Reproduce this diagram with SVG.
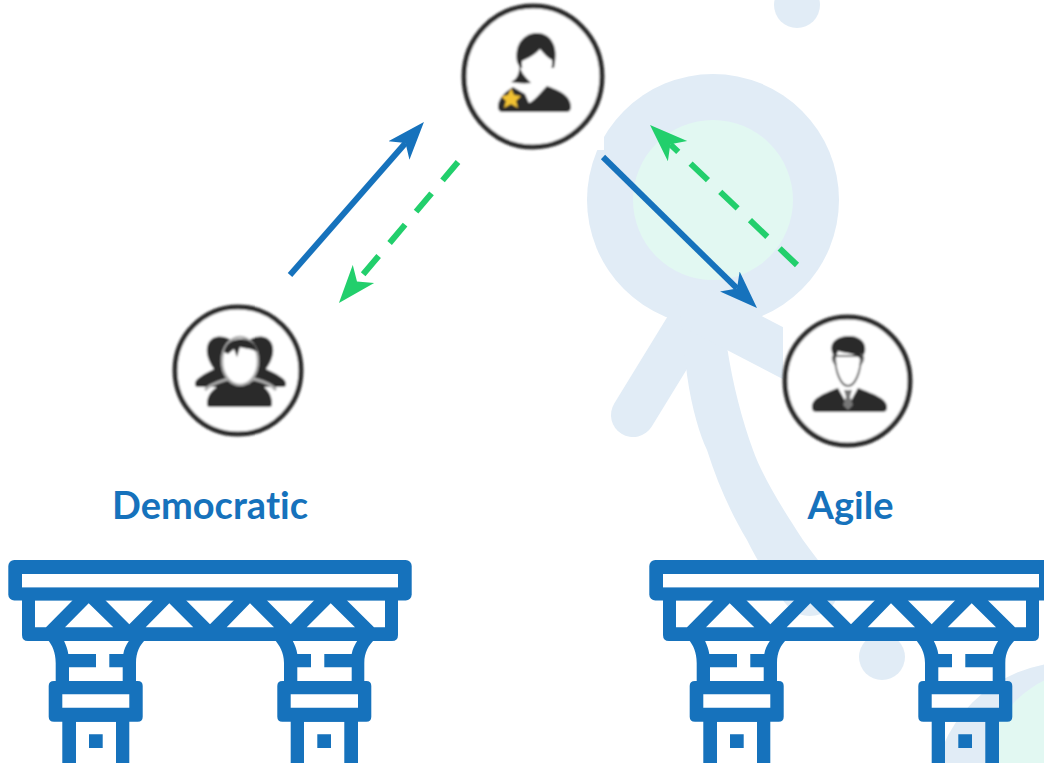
<svg xmlns="http://www.w3.org/2000/svg" xmlns:xlink="http://www.w3.org/1999/xlink" width="1044" height="763" viewBox="0 0 1044 763">
<style>
.bl{fill:#1672bc}
.bh{fill:#1672bc;fill-rule:evenodd}
.bgs{fill:#e1ecf6}
.mint{fill:#e2f8f2}
.lb{fill:#1672bc;font-family:"Lato","Liberation Sans",sans-serif;font-weight:700;font-size:38px;text-anchor:middle;font-variant-ligatures:none}
.ring{fill:#fff;stroke:#2a2a2a;stroke-width:5}
.dk{fill:#2a2a2a}
.conn{fill:none;stroke-width:6}
.soft{filter:url(#soft)}
</style>
<defs>
<filter id="soft" x="-5%" y="-5%" width="110%" height="110%"><feGaussianBlur stdDeviation="0.8"/></filter>
<marker id="ab" markerUnits="userSpaceOnUse" markerWidth="40" markerHeight="30" refX="10" refY="15" orient="auto"><path d="M0,1 L38,15 L0,29 L10,15 Z" fill="#1672bc"/></marker>
<marker id="ag" markerUnits="userSpaceOnUse" markerWidth="40" markerHeight="30" refX="10" refY="15" orient="auto"><path d="M0,1 L38,15 L0,29 L10,15 Z" fill="#22cf6c"/></marker>
<g id="bridge">
<rect x="8.3" y="560" width="403.4" height="40.6" rx="6" class="bl"/>
<rect x="22" y="574" width="376" height="13.4" fill="#fff"/>
<path class="bh" d="M22,600H398V635Q398,641 392,641H28Q22,641 22,635Z
M35,600.3H72.7L46,627.3H35Z
M88.7,603.3L113.3,627.3H65Z
M105.3,600.3H153.3L129.3,624.3Z
M169.3,603.3L193.3,627.3H145.7Z
M186,600.3H234L210,624.3Z
M250,603.3L274,627.3H226.7Z
M266.7,600.3H314.3L290.7,624.3Z
M330.7,603.3L355,627.3H306.7Z
M346.7,600.3H385V627.3H374Z"/>
<path class="bh" d="M48,640C52,645 55.7,652 55.7,663V682H136V663C136,652 140,645 145,640Z
M64,640.7H129C126,645 124,649 123.3,654H109.3V667.3H122.7V681H69V667.3H96V654H68.3C67.6,649 66,645 64,640.7Z"/>
<path class="bh" d="M275,640C279,645 284,652 284,663V682H364.3V663C364.3,652 369,645 374,640Z
M292.7,640.7H357.3C354.5,645 352.5,649 351.7,654H324.3V667.3H351.7V681H297.3V667.3H311V654H297.3C296.6,649 295,645 292.7,640.7Z"/>
<path class="bh" d="M54,681H137.7Q142.7,681 142.7,686V716.7Q142.7,721.7 137.7,721.7H54Q48.7,721.7 48.7,716.7V686Q48.7,681 54,681Z M62.3,694.3V707.7H129.3V694.3Z"/>
<path class="bh" d="M282.3,681H366.3Q371.3,681 371.3,686V716.7Q371.3,721.7 366.3,721.7H282.3Q277.3,721.7 277.3,716.7V686Q277.3,681 282.3,681Z M290.7,694.3V707.7H358V694.3Z"/>
<path class="bh" d="M62.3,721H129.3V763H62.3Z M76,721.7V763H116V721.7Z M89,734.3V748H102.7V734.3Z"/>
<path class="bh" d="M290.7,721H358V763H290.7Z M304,721.7V763H344.3V721.7Z M317.3,734.3V748H331V734.3Z"/>
</g>
</defs>
<rect width="1044" height="763" fill="#fff"/>
<g id="background">
<circle cx="797" cy="5" r="23" class="bgs"/>
<circle cx="713" cy="200" r="126" class="bgs"/>
<circle cx="713" cy="200" r="80" class="mint"/>
<path d="M690,322L633,415" fill="none" stroke="#e1ecf6" stroke-width="44" stroke-linecap="round"/>
<path class="bgs" d="M680,310L687,375C692,410 700,435 707,450C718,485 732,515 747,540C755,556 764,572 773,583C781,600 792,616 810,616C828,616 842,600 837,583C825,570 815,556 803,540C780,505 762,475 753,450C742,420 733,385 727,347L740,300Z"/>
<path d="M700,310L800,362" fill="none" stroke="#e1ecf6" stroke-width="46"/>
<circle cx="882" cy="657" r="23" class="bgs"/>
<circle cx="1070" cy="800" r="138" class="bgs"/>
<circle cx="1090" cy="775" r="105" class="mint"/>
<rect x="460" y="0" width="144" height="150" fill="#fff"/>
<rect x="783" y="315" width="135" height="140" fill="#fff"/>
</g>
<g id="node-leader" class="soft">
<ellipse cx="533" cy="76.5" rx="69" ry="70.5" class="ring"/>
<path class="dk" d="M498,107Q498,96 513,87L525,94L529,103C535,100 541,92 547,86C558,90 571,95 571,107Q571,112 566,112H503Q498,112 498,107Z"/>
<path class="dk" d="M517,62C514,43 525,33 537,33C550,33 558,45 555,62L554,68H520Z"/>
<path class="dk" d="M519,66C520,74 516,80 511,82C516,83 524,84 531,83L523,74Z"/>
<path d="M522,61C529,58 536,54 540,49C544,54 548,58 552,60C553,73 546,83 537,83C528,83 521,74 522,61Z" fill="#fff"/>
<path d="M511,88L514,95L521,96L516,101L518,108L511,104L504,108L506,101L501,96L508,95Z" fill="#f2c230"/>
</g>
<g id="node-democratic" class="soft">
<ellipse cx="238" cy="370.5" rx="63" ry="63.5" class="ring"/>
<path class="dk" d="M195,384C195,378 205,374 214,369C208,361 205,351 208,344C212,334 228,334 236,345L240,375L225,387H198Q195,387 195,384Z"/>
<path class="dk" d="M286,384C286,378 276,374 266,369C272,361 275,351 272,344C268,334 252,334 244,345L240,375L255,387H283Q286,387 286,384Z"/>
<path d="M205,390C210,384 222,381 228,379L240,386L254,379C262,381 272,385 276,390" fill="none" stroke="#aaa" stroke-width="3"/>
<path class="dk" d="M207,404C207,393 215,386 228,382L241,386L254,382C266,386 272,393 272,404Q272,407 269,407H210Q207,407 207,404Z"/>
<ellipse cx="240" cy="361" rx="18" ry="24" fill="#fff" stroke="#aaa" stroke-width="2.5"/>
<path class="dk" d="M224,352C226,342 234,339 241,339C249,339 256,343 257,352C251,348 245,349 240,347L237,357L234,349L228,354Z"/>
</g>
<g id="node-agile" class="soft">
<ellipse cx="847.5" cy="381" rx="62.5" ry="64" class="ring"/>
<path class="dk" d="M812,408C811,399 822,394 838,388L848,406L858,388C874,394 888,399 887,408Q887,412 882,412H817Q812,412 812,408Z"/>
<path d="M844,390H852L850,397L853,405L848,410L843,405L846,397Z" fill="#777"/>
<path d="M835,356C835,372 841,386 848,386C855,386 861,372 861,356Z" fill="#fff" stroke="#666" stroke-width="2"/>
<path class="dk" d="M832,352C829,341 839,336 849,336C859,336 867,342 865,352L861,360C857,353 848,354 838,351L835,360Z"/>
<path d="M835,354Q830,358 836,365M861,354Q866,358 860,365" fill="none" stroke="#666" stroke-width="2"/>
</g>
<g id="connectors">
<path class="conn" stroke="#1672bc" marker-end="url(#ab)" d="M290,275L405.5,143"/>
<path class="conn" stroke="#22cf6c" stroke-dasharray="24 17" marker-end="url(#ag)" d="M458,162L357,281.6"/>
<path class="conn" stroke="#1672bc" marker-end="url(#ab)" d="M603,157L737,288.4"/>
<path class="conn" stroke="#22cf6c" stroke-dasharray="24 17" marker-end="url(#ag)" d="M797,265L670.3,144.3"/>
</g>
<g id="label-democratic"><text x="210" y="519" class="lb">Democratic</text></g>
<g id="label-agile"><text x="850.5" y="519" class="lb">Agile</text></g>
<g id="bridge-democratic"><use xlink:href="#bridge" href="#bridge"/></g>
<g id="bridge-agile"><use xlink:href="#bridge" href="#bridge" x="641"/></g>
</svg>
